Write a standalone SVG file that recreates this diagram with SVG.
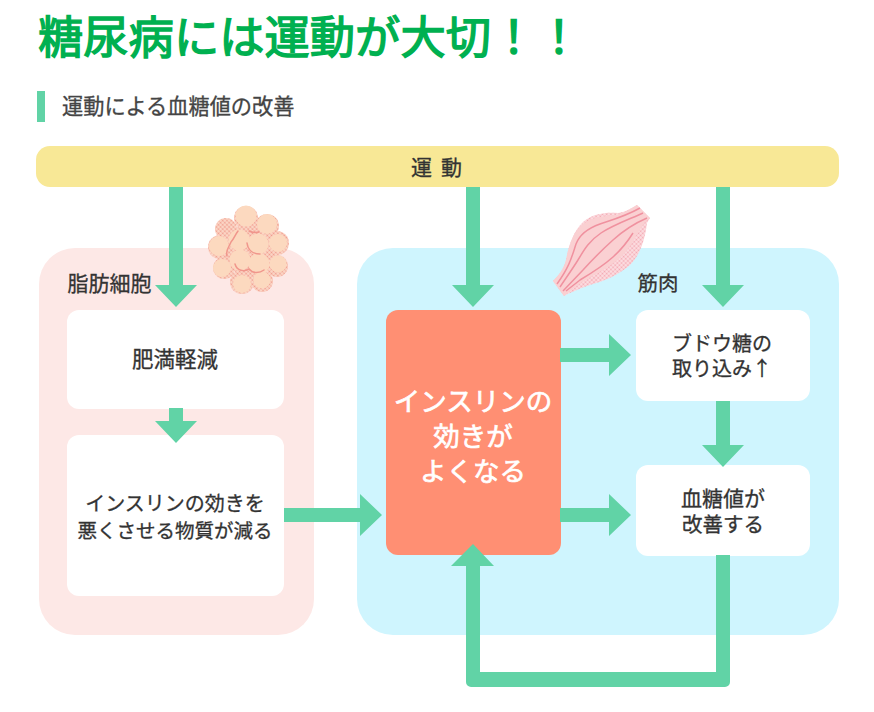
<svg xmlns="http://www.w3.org/2000/svg" width="874" height="712" viewBox="0 0 874 712">
<style>
text{font-family:"Noto Sans CJK JP","Noto Sans",sans-serif;fill:#333;text-anchor:middle;font-weight:400}
.node{font-size:20px;stroke:#333;stroke-width:.3px}
.lead{fill:#fff;stroke:#fff;stroke-width:.7px;font-size:26.500px}
.arrow{fill:#61d3a6}
.box{fill:#fff}
.fat{fill:#fcd9bf}
.fatback{fill:url(#dotPink)}
.crease{fill:none;stroke:#f0968c;stroke-width:1.5;stroke-linecap:round}
.fibre{fill:none;stroke:#f0919f;stroke-width:1.5}
</style>
<defs>
<pattern id="dotPink" width="3" height="3" patternUnits="userSpaceOnUse" patternTransform="rotate(45)"><rect width="3" height="3" fill="#fddccb"/><circle cx="1.500" cy="1.500" r="1.050" fill="#f09a8c"/></pattern>
<pattern id="dotMuscle" width="3" height="3" patternUnits="userSpaceOnUse" patternTransform="rotate(45)"><rect width="3" height="3" fill="#fde0e3"/><circle cx="1.500" cy="1.500" r="1" fill="#f3a6b0"/></pattern>
</defs>
<rect width="874" height="712" fill="#fff"/>
<text x="38" y="54" style="text-anchor:start;font-size:45.3px;fill:#00b050;stroke:#00b050;stroke-width:1.4px">糖尿病には運動が大切！！</text>
<rect x="37" y="91" width="8" height="31" fill="#61d3a6"/>
<text x="62" y="114" style="text-anchor:start;font-size:21.2px;fill:#444;stroke:#444;stroke-width:.3px">運動による血糖値の改善</text>

<g id="panel-fat"><rect x="39" y="248" width="275" height="387" rx="36" fill="#fde8e6"/></g>
<g id="panel-muscle"><rect x="357" y="248" width="482" height="387" rx="36" fill="#cff5fe"/></g>

<g id="exercise"><rect x="36" y="146" width="803" height="41" rx="14" fill="#f8e896"/>
<text x="441" y="175" class="node" style="font-size:21px;letter-spacing:9px">運動</text></g>

<g id="fat-icon">
<g class="fatback"><circle cx="246" cy="218" r="12"/><circle cx="267" cy="226" r="12"/><circle cx="226" cy="229" r="11"/><circle cx="220" cy="247" r="12"/><circle cx="277" cy="243" r="12"/><circle cx="277" cy="266" r="11"/><circle cx="224" cy="268" r="11"/><circle cx="242" cy="282" r="12"/><circle cx="262" cy="281" r="11"/><circle cx="250" cy="250" r="26"/></g>
<g class="fat"><circle cx="246" cy="216" r="10.500"/><circle cx="267" cy="224" r="10"/><circle cx="219" cy="246" r="10"/><circle cx="278" cy="243" r="9"/><circle cx="278" cy="264" r="8.500"/><circle cx="222" cy="268" r="9"/><circle cx="242" cy="284" r="9"/><circle cx="262" cy="280" r="8.500"/><circle cx="239" cy="240" r="10.500"/><circle cx="258" cy="244" r="10.500"/><circle cx="240" cy="260" r="10.500"/><circle cx="259" cy="264" r="10.500"/></g>
<path class="crease" d="M238 231c-3 4-4 8-7 11-2 5-6 9-4 14"/><path class="crease" d="M249 231c2 1 6 2 10 1"/><path class="crease" d="M247 243c1 7 6 11 13 11"/><path class="crease" d="M235 264c2 7 9 8 14 5 4 5 11 4 15 1"/>
</g>

<g id="muscle-icon">
<path d="M637 205L650 218L647 223C645 240 640 255 630 265C620 274 605 281 590 285C578 289 570 293 564 296L553 281C560 274 564 268 566 260C569 245 573 232 583 222C592 214 605 212 618 213C625 212 630 209 637 205Z" fill="url(#dotMuscle)"/>
<path d="M637 205L650 218L645 222C637 232 633 245 622 256C610 268 590 276 575 287L564 296L553 281C560 274 564 268 566 260C569 245 573 232 583 224C592 217 605 216 616 215C625 213 630 209 637 205Z" fill="#fad0d2"/>
<path class="fibre" d="M640 208C626 216 612 220 600 224C586 229 579 236 576 244C572 256 570 266 557 284"/><path class="fibre" d="M643 213C630 219 613 225 601 233C589 241 584 250 578 260C573 268 566 278 560 287"/><path class="fibre" d="M647 218C633 224 623 231 613 240C603 249 593 259 583 270L563 291"/><path class="fibre" d="M633 233C628 241 623 248 613 257C603 266 590 274 580 280L566 291"/>
</g>

<g id="node-obesity"><rect class="box" x="67" y="310" width="217" height="99" rx="12"/><text class="node" x="175" y="367" style="font-size:21.500px">肥満軽減</text></g>
<g id="node-substance"><rect class="box" x="67" y="435" width="217" height="161" rx="12"/>
<text class="node" x="175" y="511">インスリンの効きを</text><text class="node" x="175" y="538" style="font-size:19.500px">悪くさせる物質が減る</text></g>
<g id="node-insulin"><rect x="386" y="310" width="175" height="245" rx="12" fill="#ff8f73"/>
<text class="lead" x="473" y="411">インスリンの</text><text class="lead" x="473" y="446">効きが</text><text class="lead" x="473" y="481">よくなる</text></g>
<g id="node-glucose"><rect class="box" x="636" y="310" width="174" height="91" rx="12"/>
<text class="node" x="722" y="351">ブドウ糖の</text><text class="node" x="722" y="376">取り込み↑</text></g>
<g id="node-sugar"><rect class="box" x="636" y="465" width="174" height="91" rx="12"/>
<text class="node" x="723" y="506" style="font-size:21px">血糖値が</text><text class="node" x="723" y="532" style="font-size:20.500px">改善する</text></g>

<text class="node" x="109.500" y="291" style="font-size:21px">脂肪細胞</text>
<text class="node" x="658" y="291" style="font-size:20.500px">筋肉</text>

<g id="connectors">
<polygon class="arrow" points="169,187 183,187 183,285 197,285 176,307 155,285 169,285"/>
<polygon class="arrow" points="466,187 480,187 480,285 494,285 473,307 452,285 466,285"/>
<polygon class="arrow" points="716,187 730,187 730,285 744,285 723,307 702,285 716,285"/>
<polygon class="arrow" points="169,408 183,408 183,421 197,421 176,443 155,421 169,421"/>
<polygon class="arrow" points="716,401 730,401 730,445 744,445 723,467 702,445 716,445"/>
<polygon class="arrow" points="284,508 360,508 360,494 382,515 360,536 360,522 284,522"/>
<polygon class="arrow" points="560,348 609,348 609,334 631,355 609,376 609,362 560,362"/>
<polygon class="arrow" points="560,508 609,508 609,494 631,515 609,536 609,522 560,522"/>
<path class="arrow" d="M716 555h14v127a5 5 0 0 1-5 5H471a5 5 0 0 1-5-5V566h-15l22-22 21 22h-14v106h236z"/>
</g>
</svg>
